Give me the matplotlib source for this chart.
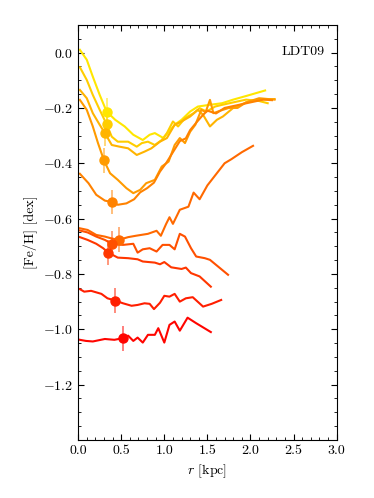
import numpy as np
import matplotlib
matplotlib.use("Agg")
import matplotlib.pyplot as plt

plt.rcParams['font.family'] = 'serif'
plt.rcParams['font.serif'] = ['cmr10']
plt.rcParams['mathtext.fontset'] = 'cm'
plt.rcParams['axes.formatter.use_mathtext'] = True
plt.rcParams['font.size'] = 10

# ---- data: radial [Fe/H] profiles (x in kpc, y in dex) ----
x1 = [0.02, 0.10, 0.17, 0.25, 0.33, 0.43, 0.54, 0.64, 0.75, 0.83, 0.89, 0.99, 1.12, 1.20, 1.30, 1.39, 1.50, 1.67, 1.80, 1.96, 2.17]
y1 = [0.01, -0.026, -0.087, -0.153, -0.213, -0.243, -0.267, -0.297, -0.316, -0.297, -0.291, -0.309, -0.261, -0.243, -0.213, -0.195, -0.19, -0.183, -0.17, -0.156, -0.137]

x2 = [0.02, 0.10, 0.17, 0.25, 0.33, 0.39, 0.46, 0.58, 0.68, 0.74, 0.81, 0.89, 0.97, 1.03, 1.10, 1.16, 1.24, 1.34, 1.41, 1.49, 1.59, 1.67, 1.80, 1.95, 2.10, 2.20]
y2 = [-0.053, -0.099, -0.153, -0.207, -0.259, -0.304, -0.322, -0.322, -0.340, -0.327, -0.322, -0.334, -0.316, -0.291, -0.249, -0.267, -0.237, -0.219, -0.201, -0.213, -0.195, -0.189, -0.18, -0.17, -0.175, -0.183]

x3 = [0.02, 0.10, 0.17, 0.25, 0.31, 0.39, 0.48, 0.58, 0.68, 0.77, 0.85, 0.95, 1.03, 1.12, 1.20, 1.30, 1.39, 1.45, 1.53, 1.61, 1.68, 1.80, 1.95, 2.10, 2.28]
y3 = [-0.135, -0.165, -0.219, -0.261, -0.291, -0.334, -0.340, -0.346, -0.370, -0.358, -0.346, -0.322, -0.309, -0.261, -0.249, -0.231, -0.207, -0.225, -0.267, -0.243, -0.231, -0.20, -0.18, -0.17, -0.168]

x4 = [0.02, 0.10, 0.17, 0.23, 0.30, 0.37, 0.46, 0.56, 0.64, 0.72, 0.79, 0.89, 0.97, 1.05, 1.12, 1.18, 1.24, 1.30, 1.36, 1.43, 1.48, 1.53, 1.57, 1.65, 1.75, 1.85, 1.95, 2.10, 2.28]
y4 = [-0.171, -0.207, -0.267, -0.327, -0.390, -0.436, -0.460, -0.490, -0.508, -0.496, -0.472, -0.460, -0.412, -0.394, -0.334, -0.309, -0.327, -0.286, -0.261, -0.207, -0.215, -0.171, -0.219, -0.21, -0.20, -0.20, -0.18, -0.165, -0.17]

x5 = [0.02, 0.12, 0.21, 0.31, 0.39, 0.46, 0.56, 0.65, 0.72, 0.80, 0.88, 0.95, 1.02, 1.10, 1.18, 1.25, 1.30, 1.38, 1.45, 1.50, 1.60, 1.70, 1.85, 2.00, 2.15, 2.25]
y5 = [-0.438, -0.472, -0.514, -0.535, -0.540, -0.550, -0.545, -0.530, -0.505, -0.490, -0.470, -0.430, -0.400, -0.360, -0.320, -0.310, -0.280, -0.250, -0.225, -0.210, -0.220, -0.200, -0.190, -0.180, -0.170, -0.172]

x6 = [0.02, 0.11, 0.21, 0.31, 0.38, 0.47, 0.58, 0.67, 0.81, 0.91, 0.96, 1.02, 1.06, 1.10, 1.18, 1.28, 1.34, 1.41, 1.50, 1.60, 1.70, 1.78, 1.90, 2.03]
y6 = [-0.635, -0.641, -0.659, -0.665, -0.671, -0.677, -0.667, -0.662, -0.655, -0.644, -0.662, -0.620, -0.595, -0.619, -0.568, -0.557, -0.506, -0.530, -0.480, -0.440, -0.400, -0.385, -0.360, -0.337]

x7 = [0.02, 0.11, 0.21, 0.31, 0.39, 0.52, 0.64, 0.69, 0.75, 0.83, 0.91, 0.98, 1.06, 1.12, 1.18, 1.24, 1.31, 1.37, 1.47, 1.53, 1.74]
y7 = [-0.643, -0.650, -0.665, -0.677, -0.691, -0.695, -0.691, -0.723, -0.711, -0.707, -0.719, -0.695, -0.695, -0.711, -0.655, -0.665, -0.707, -0.737, -0.743, -0.749, -0.803]

x8 = [0.02, 0.11, 0.21, 0.29, 0.35, 0.46, 0.58, 0.69, 0.75, 0.89, 0.95, 1.00, 1.08, 1.20, 1.25, 1.31, 1.41, 1.54]
y8 = [-0.667, -0.677, -0.691, -0.707, -0.723, -0.741, -0.743, -0.747, -0.755, -0.759, -0.765, -0.757, -0.776, -0.782, -0.777, -0.797, -0.809, -0.846]

x9 = [0.02, 0.07, 0.15, 0.27, 0.34, 0.43, 0.52, 0.62, 0.69, 0.77, 0.83, 0.88, 0.95, 1.00, 1.06, 1.12, 1.18, 1.25, 1.33, 1.45, 1.55, 1.66]
y9 = [-0.855, -0.864, -0.861, -0.872, -0.888, -0.896, -0.906, -0.915, -0.912, -0.906, -0.908, -0.927, -0.904, -0.879, -0.882, -0.872, -0.900, -0.888, -0.884, -0.918, -0.908, -0.894]

x10 = [0.02, 0.09, 0.17, 0.31, 0.42, 0.52, 0.58, 0.64, 0.69, 0.75, 0.81, 0.89, 0.93, 1.00, 1.06, 1.12, 1.18, 1.27, 1.37, 1.54]
y10 = [-1.038, -1.042, -1.044, -1.035, -1.038, -1.032, -1.023, -1.042, -1.030, -1.048, -1.020, -1.020, -0.996, -1.048, -0.984, -0.972, -1.005, -0.958, -0.978, -1.010]

# marker points (half-light radius) with errors
mark_x = [0.33, 0.33, 0.31, 0.30, 0.39, 0.47, 0.39, 0.35, 0.43, 0.52]
mark_y = [-0.213, -0.259, -0.291, -0.390, -0.540, -0.677, -0.691, -0.723, -0.896, -1.032]
mark_err = [0.048, 0.045, 0.045, 0.045, 0.045, 0.045, 0.045, 0.045, 0.045, 0.045]

xs = [x1, x2, x3, x4, x5, x6, x7, x8, x9, x10]
ys = [y1, y2, y3, y4, y5, y6, y7, y8, y9, y10]

colors = plt.cm.autumn(np.linspace(0.9, 0.02, len(xs)))

fig = plt.figure(figsize=(3.74, 4.98), dpi=100)
ax = fig.add_axes([0.209, 0.1165, 0.691, 0.8335])

for i in range(len(xs)):
    ax.plot(xs[i], ys[i], '-', color=colors[i], lw=1.5, zorder=2)
    ax.errorbar(mark_x[i], mark_y[i], yerr=mark_err[i], fmt='none',
                ecolor=colors[i], elinewidth=1.2, alpha=0.6, capsize=0, zorder=3)
    ax.plot(mark_x[i], mark_y[i], 'o', color=colors[i], ms=6.5,
            mec=colors[i], zorder=4)

ax.set_xlim(0, 3.0)
ax.set_ylim(-1.4, 0.1)
ax.set_xticks([0.0, 0.5, 1.0, 1.5, 2.0, 2.5, 3.0])
ax.set_yticks([0.0, -0.2, -0.4, -0.6, -0.8, -1.0, -1.2])
ax.xaxis.set_major_formatter(matplotlib.ticker.FormatStrFormatter('%.1f'))
ax.yaxis.set_major_formatter(matplotlib.ticker.FormatStrFormatter('$%.1f$'))
ax.xaxis.set_minor_locator(matplotlib.ticker.MultipleLocator(0.1))
ax.yaxis.set_minor_locator(matplotlib.ticker.MultipleLocator(0.05))
ax.tick_params(which='both', direction='in', top=True, right=True)
ax.tick_params(which='major', length=4, width=0.8)
ax.tick_params(which='minor', length=2, width=0.6)

ax.set_xlabel(r'$r$ [kpc]')
ax.set_ylabel('[Fe/H] [dex]')
ax.text(0.87, 0.935, 'LDT09', transform=ax.transAxes, ha='center', va='center')

fig.savefig('out.png', dpi=100)
